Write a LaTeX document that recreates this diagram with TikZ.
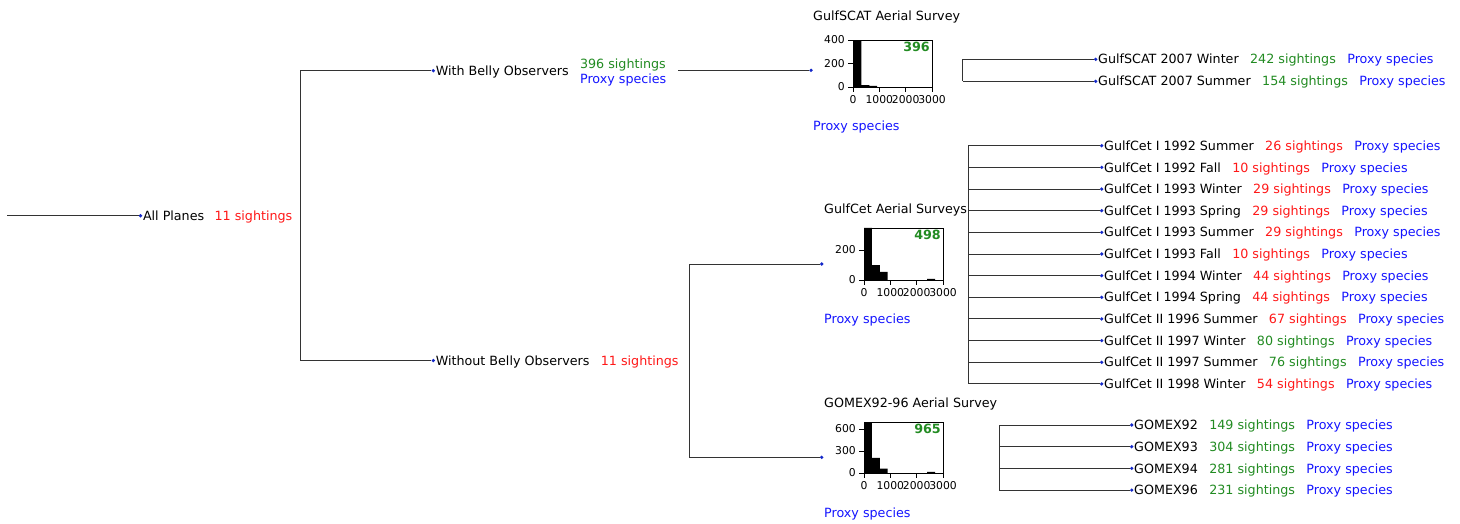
\documentclass[tikz,border=0pt]{standalone}
\usepackage{fontspec}
\setmainfont{DejaVu Sans}
\usepackage{xcolor}
\usepackage{tikz}
\usetikzlibrary{positioning}

\definecolor{cntgreen}{RGB}{34,139,34}
\definecolor{cntred}{RGB}{255,24,24}
\definecolor{prxblue}{RGB}{20,20,255}
\definecolor{dotblue}{RGB}{20,40,200}

\begin{document}
\begin{tikzpicture}[x=1pt, y=-1pt,
  lbl/.style={anchor=west, inner sep=0pt, text height=9.3pt, text depth=0pt, font=\fontsize{12.7}{14.3}\selectfont},
  prx/.style={lbl, text=prxblue},
  dot/.style={circle, fill=dotblue, inner sep=0pt, minimum size=3.6pt},
  link/.style={draw=black!80, line width=1pt},
  frame/.style={draw=black, line width=0.7pt},
  tick/.style={inner sep=0pt, font=\fontsize{10.8}{12}\selectfont},
  total/.style={anchor=north east, inner sep=2pt, text=cntgreen, font=\fontsize{12.7}{14}\selectfont\bfseries}
]
\useasboundingbox (0,0) rectangle (1460,523);

% root
\coordinate (root) at (7,215.7);
\node[dot] (allp) at (140.5,215.7) {};
\node[lbl, right=0.3pt of allp] (allpl) {All Planes};
\node[lbl, text=cntred, right=10pt of allpl] (allpn) {11 sightings};
\draw[link] (root) -- (allp);

% belly split
\node[dot] (wbo) at (433.3,70.7) {};
\node[lbl, right=0.3pt of wbo] (wbol) {With Belly Observers};
\node[lbl, text=cntgreen, right=11pt of wbol, yshift=6.7pt] (wbon) {396 sightings};
\node[prx, below=5pt of wbon.south west, anchor=north west] (wbop) {Proxy species};
\node[dot] (nbo) at (433.3,360.5) {};
\node[lbl, right=0.3pt of nbo] (nbol) {Without Belly Observers};
\node[lbl, text=cntred, right=11pt of nbol] (nbon) {11 sightings};
\coordinate (allpel) at (300.7,0);
\draw[link] (wbo) -- (wbo -| allpel) -- (nbo -| allpel) -- (nbo);

% GulfSCAT
\node[dot] (gs) at (811,70.3) {};
\node[lbl] (gst) at (813,15.7) {GulfSCAT Aerial Survey};
\node[prx] (gsp) at (813,126) {Proxy species};
\coordinate (wboout) at (678.3,70.3);
\draw[link] (wboout) -- (gs);
\begin{scope}[shift={(853,87)}, x=0.02633pt, y=0.1175pt]
  \fill (0,0) rectangle (320,400) (320,0) rectangle (620,17) (620,0) rectangle (920,9);
  \draw[frame] (0,0) rectangle (3000,400);
  \foreach \t in {0,1000,2000,3000}
    \draw (\t,0) -- ++(0,-5pt) node[tick, below=3pt] (gsx\t) {\t};
  \foreach \t in {0,200,400}
    \draw (0,\t) -- ++(-5pt,0) node[tick, left=3pt] (gsy\t) {\t};
  \node[total] (gsn) at (3000,400) {396};
\end{scope}

% GulfCet
\node[dot] (gc) at (821.7,264) {};
\node[lbl] (gct) at (824,209) {GulfCet Aerial Surveys};
\node[prx] (gcp) at (824,319) {Proxy species};
\begin{scope}[shift={(864,280)}, x=0.02633pt, y=0.15pt]
  \fill (0,0) rectangle (300,347) (300,0) rectangle (600,100) (600,0) rectangle (900,55)
        (2400,0) rectangle (2700,7);
  \draw[frame] (0,0) rectangle (3000,347);
  \foreach \t in {0,1000,2000,3000}
    \draw (\t,0) -- ++(0,-5pt) node[tick, below=3pt] (gcx\t) {\t};
  \foreach \t in {0,200}
    \draw (0,\t) -- ++(-5pt,0) node[tick, left=3pt] (gcy\t) {\t};
  \node[total] (gcn) at (3000,347) {498};
\end{scope}

% GOMEX
\node[dot] (gx) at (821.7,457.3) {};
\node[lbl] (gxt) at (824,403) {GOMEX92-96 Aerial Survey};
\node[prx] (gxp) at (824,513) {Proxy species};
\begin{scope}[shift={(864,473)}, x=0.02633pt, y=0.07333pt]
  \fill (0,0) rectangle (300,695) (300,0) rectangle (600,205) (600,0) rectangle (900,60)
        (2400,0) rectangle (2700,15);
  \draw[frame] (0,0) rectangle (3000,695);
  \foreach \t in {0,1000,2000,3000}
    \draw (\t,0) -- ++(0,-5pt) node[tick, below=3pt] (gxx\t) {\t};
  \foreach \t in {0,300,600}
    \draw (0,\t) -- ++(-5pt,0) node[tick, left=3pt] (gxy\t) {\t};
  \node[total] (gxn) at (3000,695) {965};
\end{scope}

\coordinate (nboel) at (689,0);
\draw[link] (gc) -- (gc -| nboel) -- (gx -| nboel) -- (gx);

% GulfSCAT seasons
\coordinate (gsel) at (962.7,0);
\foreach \lbl/\num/\col [count=\i from 0] in {GulfSCAT 2007 Winter/242/cntgreen, GulfSCAT 2007 Summer/154/cntgreen} {
  \node[dot] (gs\i) at (1095.7,59.3+22*\i) {};
  \node[lbl, right=0.3pt of gs\i] (gs\i l) {\lbl};
  \node[lbl, text=\col, right=11pt of gs\i l] (gs\i n) {\num\ sightings};
  \node[prx, right=11pt of gs\i n] (gs\i p) {Proxy species};
  \draw[link] (gs\i -| gsel) -- (gs\i);
}
\draw[link] (gs0 -| gsel) -- (gs1 -| gsel);

% GulfCet seasons
\coordinate (gcel) at (968.3,0);
\foreach \lbl/\num/\col [count=\i from 0] in {
    GulfCet I 1992 Summer/26/cntred, GulfCet I 1992 Fall/10/cntred,
    GulfCet I 1993 Winter/29/cntred, GulfCet I 1993 Spring/29/cntred,
    GulfCet I 1993 Summer/29/cntred, GulfCet I 1993 Fall/10/cntred,
    GulfCet I 1994 Winter/44/cntred, GulfCet I 1994 Spring/44/cntred,
    GulfCet II 1996 Summer/67/cntred, GulfCet II 1997 Winter/80/cntgreen,
    GulfCet II 1997 Summer/76/cntgreen, GulfCet II 1998 Winter/54/cntred} {
  \node[dot] (gc\i) at (1101.7,145.7+21.66*\i) {};
  \node[lbl, right=0.3pt of gc\i] (gc\i l) {\lbl};
  \node[lbl, text=\col, right=11pt of gc\i l] (gc\i n) {\num\ sightings};
  \node[prx, right=11pt of gc\i n] (gc\i p) {Proxy species};
  \draw[link] (gc\i -| gcel) -- (gc\i);
}
\draw[link] (gc0 -| gcel) -- (gc11 -| gcel);

% GOMEX cruises
\coordinate (gxel) at (999.3,0);
\foreach \lbl/\num [count=\i from 0] in {GOMEX92/149, GOMEX93/304, GOMEX94/281, GOMEX96/231} {
  \node[dot] (gx\i) at (1131.7,425+21.7*\i) {};
  \node[lbl, right=0.3pt of gx\i] (gx\i l) {\lbl};
  \node[lbl, text=cntgreen, right=11pt of gx\i l] (gx\i n) {\num\ sightings};
  \node[prx, right=11pt of gx\i n] (gx\i p) {Proxy species};
  \draw[link] (gx\i -| gxel) -- (gx\i);
}
\draw[link] (gx0 -| gxel) -- (gx3 -| gxel);
\end{tikzpicture}
\end{document}
